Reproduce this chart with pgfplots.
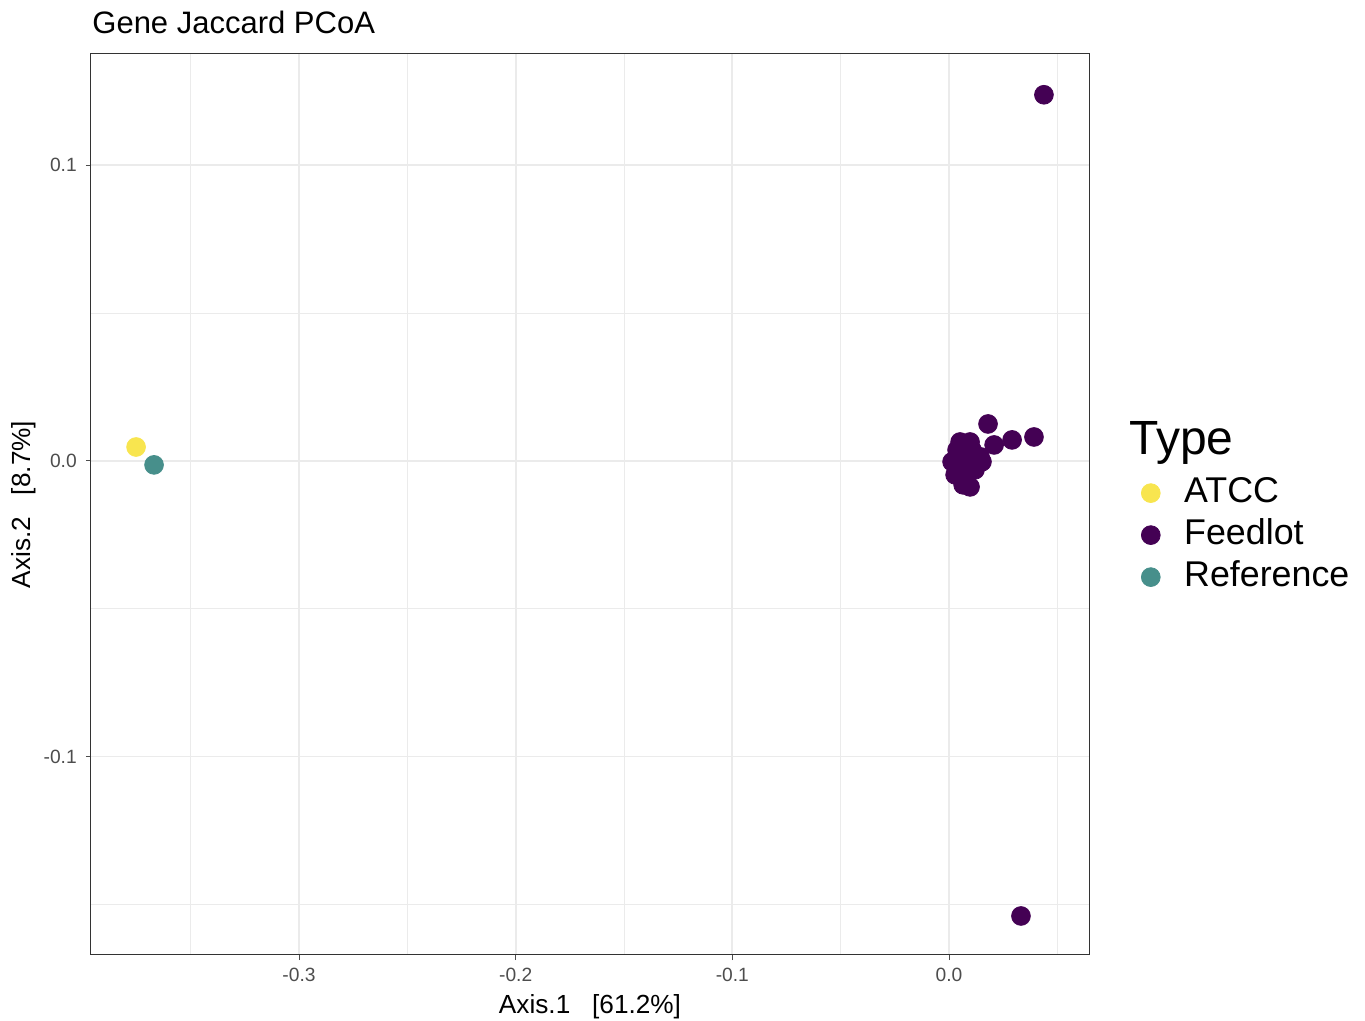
\documentclass[border=0pt]{standalone}
\usepackage{pgfplots}
\pgfplotsset{compat=1.18}
\usepackage{fontspec}
\setmainfont{Liberation Sans}
\definecolor{cATCC}{HTML}{F8E54F}
\definecolor{cFeed}{HTML}{440154}
\definecolor{cRef}{HTML}{478F8B}
\definecolor{gridc}{HTML}{EBEBEB}
\definecolor{tickc}{HTML}{4D4D4D}
\begin{document}
\begin{tikzpicture}
\path[use as bounding box] (-45.5pt,-33pt) rectangle (637pt,477.5pt);
\begin{axis}[
  name=ax,
  at={(0pt,0pt)}, anchor=south west,
  scale only axis,
  width=499pt, height=450.5pt,
  xmin=-0.396, xmax=0.0646,
  ymin=-0.1672, ymax=0.1377,
  xtick={-0.3,-0.2,-0.1,0.0},
  xticklabels={-0.3,-0.2,-0.1,0.0},
  ytick={-0.1,0.0,0.1},
  yticklabels={-0.1,0.0,0.1},
  minor xtick={-0.35,-0.25,-0.15,-0.05,0.05},
  minor ytick={-0.15,-0.05,0.05},
  grid=both,
  major grid style={gridc, line width=0.9pt},
  minor grid style={gridc, line width=0.45pt},
  tick align=outside,
  major tick length=2.6pt,
  minor tick length=0pt,
  tick style={tickc, line width=0.5pt},
  xtick pos=bottom, ytick pos=left,
  axis line style={draw=black!80, line width=0.5pt},
  ticklabel style={font=\fontsize{9.6}{11}\selectfont, text=tickc},
  xticklabel style={yshift=-0.5pt},
  yticklabel style={xshift=-1pt},
  xlabel={Axis.1\ \ \ [61.2\%]},
  ylabel={Axis.2\ \ \ [8.7\%]},
  label style={font=\fontsize{13.1}{15}\selectfont},
  xlabel style={yshift=0.5pt},
  ylabel style={yshift=-3pt},
  legend style={draw=none, fill=none, at={(1.0,0.466)}, anchor=west, xshift=26pt,
    font=\fontsize{17.9}{21}\selectfont, row sep=0pt, inner sep=0pt,
    nodes={text height=13pt, text depth=4pt, inner sep=2pt}},
  legend cell align=left,
  clip=false,
]
\addplot[only marks, mark=*, mark size=4.7pt, color=cATCC] coordinates {(-0.3752,0.0047)};
\addlegendentry{\hspace{10pt}ATCC}
\addplot[only marks, mark=*, mark size=4.7pt, color=cFeed] coordinates {
(0.0438,0.1239) (0.0332,-0.1540) (0.0392,0.0081) (0.0291,0.0071)
(0.0208,0.0054) (0.0180,0.0125)
(0.0051,0.0064) (0.0097,0.0064) (0.0014,-0.0003) (0.0028,-0.0047)
(0.0065,-0.0081) (0.0097,-0.0088) (0.0143,0.0014) (0.0120,-0.0030)
(0.0152,-0.0003) (0.0074,0.0020) (0.0051,-0.0014) (0.0088,-0.0030)
(0.0037,0.0037) (0.0106,0.0037) (0.0060,-0.0047) (0.0078,0.0044)
(0.0045,0.0010) (0.0100,-0.0010) (0.0070,-0.0060)
};
\addlegendentry{\hspace{10pt}Feedlot}
\addplot[only marks, mark=*, mark size=4.7pt, color=cRef] coordinates {(-0.3669,-0.00135)};
\addlegendentry{\hspace{10pt}Reference}
\end{axis}
\node[anchor=base west, font=\fontsize{15.5}{18}\selectfont, inner sep=0pt] at ([shift={(0.5pt,10.3pt)}]ax.north west) {Gene Jaccard PCoA};
\node[anchor=base west, font=\fontsize{24}{28}\selectfont, inner sep=0pt] at ([shift={(20pt,25pt)}]ax.east) {Type};
\end{tikzpicture}
\end{document}
